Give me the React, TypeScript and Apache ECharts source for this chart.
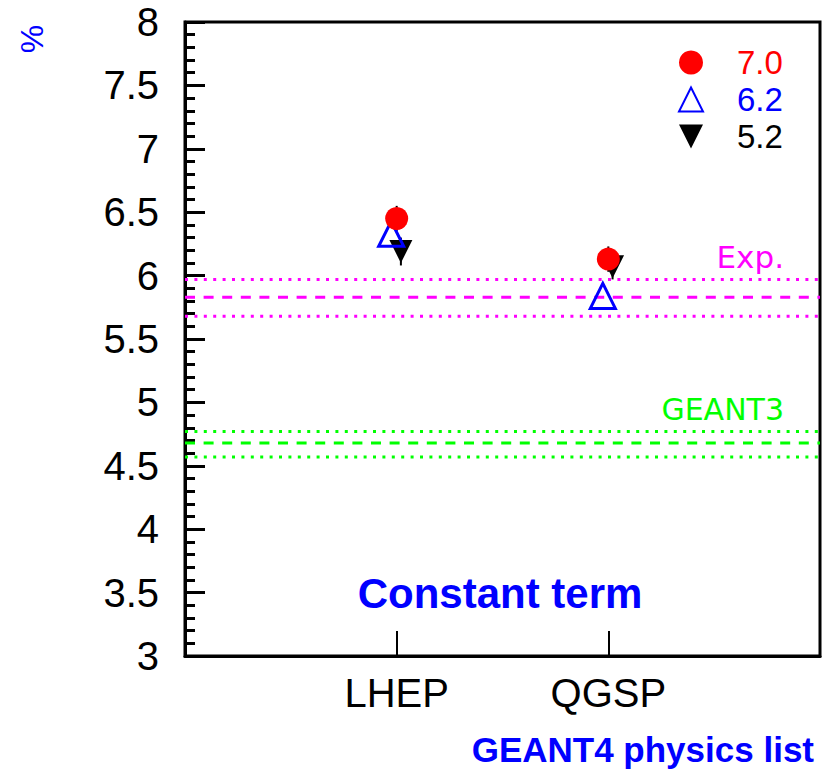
import React, { useEffect, useRef } from 'react';
import * as echarts from 'echarts';

// ---- data ----
const categories = ['LHEP', 'QGSP'];
const versions = ['7.0', '6.2', '5.2'];
const values70 = [6.45, 6.13];
const values62 = [6.33, 5.84];
const values52 = [6.19, 6.07];
const errors70 = [0.1, 0.1];
const errors52 = [0.11, 0.1];
const expBand = [5.83, 5.97, 5.68]; // central, upper, lower
const geant3Band = [4.68, 4.77, 4.57]; // central, upper, lower
const yMin = 3;
const yMax = 8;
const yStep = 0.5;
const xMin = 0;
const xMax = 3;

// ---- style ----
const FONT = 'Liberation Sans, Arial, sans-serif';
const THIN = '"DejaVu Sans", sans-serif';
const xShift = [0, -0.026, 0.02]; // 7.0, 6.2, 5.2 small horizontal offsets
const DASHED = [10, 8.6];
const DOTTED = [3, 6.4];

function refLine(name: string, v: number, color: string, dash: number[]) {
  return {
    name,
    type: 'line',
    data: [[xMin, v], [xMax, v]],
    symbol: 'none',
    showSymbol: false,
    silent: true,
    z: 1,
    lineStyle: { color, width: 3, type: dash },
  };
}

export default function App() {
  const ref = useRef<HTMLDivElement>(null);
  useEffect(() => {
    const chart = echarts.init(ref.current!, null, { renderer: 'svg' });

    const pts = (vals: number[], k: number) => vals.map((v, i) => [i + 1 + xShift[k], v]);
    const errs = (vals: number[], e: number[], k: number) =>
      vals.map((v, i) => [i + 1 + xShift[k], v - e[i], v + e[i]]);

    const option: any = {
      animation: false,
      backgroundColor: '#ffffff',
      grid: {
        left: 185,
        top: 22,
        right: 10,
        bottom: 114,
        show: true,
        borderColor: '#000',
        borderWidth: 3,
        backgroundColor: 'transparent',
      },
      xAxis: {
        type: 'value',
        min: xMin,
        max: xMax,
        interval: 1,
        splitLine: { show: false },
        axisLine: { show: true, lineStyle: { color: '#000', width: 3 } },
        axisTick: {
          show: true,
          inside: true,
          length: 25,
          customValues: [1, 2],
          lineStyle: { color: '#000', width: 2 },
        },
        axisLabel: {
          customValues: [1, 2],
          formatter: (v: number) => categories[Math.round(v) - 1] ?? '',
          fontSize: 40,
          fontFamily: FONT,
          color: '#000',
          margin: 17,
        },
      },
      yAxis: {
        type: 'value',
        min: yMin,
        max: yMax,
        interval: yStep,
        splitLine: { show: false },
        axisLine: { show: true, lineStyle: { color: '#000', width: 3 } },
        axisTick: { show: true, inside: true, length: 20, lineStyle: { color: '#000', width: 3 } },
        minorTick: { show: true, splitNumber: 5, length: 10, lineStyle: { color: '#000', width: 3 } },
        axisLabel: {
          fontSize: 40,
          fontFamily: FONT,
          color: '#000',
          margin: 26,
          formatter: (v: number) => String(v),
        },
      },
      legend: {
        orient: 'vertical',
        left: 678,
        top: 46,
        padding: 0,
        itemWidth: 24,
        itemHeight: 24,
        itemGap: 4,
        selectedMode: false,
        textStyle: { fontSize: 33, fontFamily: FONT, padding: [0, 0, 0, 29] },
        data: [
          { name: versions[0], icon: 'circle', textStyle: { color: '#ff0000' } },
          { name: versions[1], icon: 'triangle', textStyle: { color: '#0000ff' } },
          {
            name: versions[2],
            icon: 'path://M0,0L24,0L12,24Z',
            itemStyle: { color: '#000' },
            textStyle: { color: '#000000' },
          },
        ],
      },
      graphic: [
        {
          type: 'text',
          x: 32,
          y: 39,
          rotation: Math.PI / 2,
          style: { text: '%', fill: '#0000ff', font: `32px ${FONT}`, align: 'center', verticalAlign: 'middle' },
        },
        {
          type: 'text',
          x: 784,
          y: 257,
          style: { text: 'Exp.', fill: '#ff00ff', font: `31px ${THIN}`, align: 'right', verticalAlign: 'middle' },
        },
        {
          type: 'text',
          x: 784,
          y: 409,
          style: { text: 'GEANT3', fill: '#00ff00', font: `30px ${THIN}`, align: 'right', verticalAlign: 'middle' },
        },
        {
          type: 'text',
          x: 500,
          y: 593,
          style: { text: 'Constant term', fill: '#0000ff', font: `bold 42px ${FONT}`, align: 'center', verticalAlign: 'middle' },
        },
        {
          type: 'text',
          x: 814,
          y: 749,
          style: { text: 'GEANT4 physics list', fill: '#0000ff', font: `bold 35px ${FONT}`, align: 'right', verticalAlign: 'middle' },
        },
      ],
      series: [
        refLine('expC', expBand[0], '#ff00ff', DASHED),
        refLine('expU', expBand[1], '#ff00ff', DOTTED),
        refLine('expL', expBand[2], '#ff00ff', DOTTED),
        refLine('g3C', geant3Band[0], '#00ff00', DASHED),
        refLine('g3U', geant3Band[1], '#00ff00', DOTTED),
        refLine('g3L', geant3Band[2], '#00ff00', DOTTED),
        {
          name: 'err',
          type: 'custom',
          z: 2,
          silent: true,
          data: [...errs(values52, errors52, 2), ...errs(values70, errors70, 0)],
          renderItem: (_p: any, api: any) => {
            const a = api.coord([api.value(0), api.value(1)]);
            const b = api.coord([api.value(0), api.value(2)]);
            return {
              type: 'line',
              shape: { x1: a[0], y1: a[1], x2: b[0], y2: b[1] },
              style: { stroke: '#000', lineWidth: 2 },
            };
          },
        },
        {
          name: versions[2],
          type: 'scatter',
          z: 3,
          symbol: 'triangle',
          symbolRotate: 180,
          symbolSize: 23,
          itemStyle: { color: '#000', opacity: 1 },
          data: pts(values52, 2),
        },
        {
          name: versions[1],
          type: 'scatter',
          z: 3,
          symbol: 'triangle',
          symbolSize: 25,
          itemStyle: { color: 'rgba(0,0,0,0)', borderColor: '#0000ff', borderWidth: 3, opacity: 1 },
          data: pts(values62, 1),
        },
        {
          name: versions[0],
          type: 'scatter',
          z: 3,
          symbol: 'circle',
          symbolSize: 23,
          itemStyle: { color: '#ff0000', opacity: 1 },
          data: pts(values70, 0),
        },
      ],
    };

    chart.setOption(option);
    return () => chart.dispose();
  }, []);

  return (
    <div
      ref={ref}
      style={{ position: 'fixed', left: 0, top: 0, width: 830, height: 770, background: '#fff' }}
    />
  );
}
